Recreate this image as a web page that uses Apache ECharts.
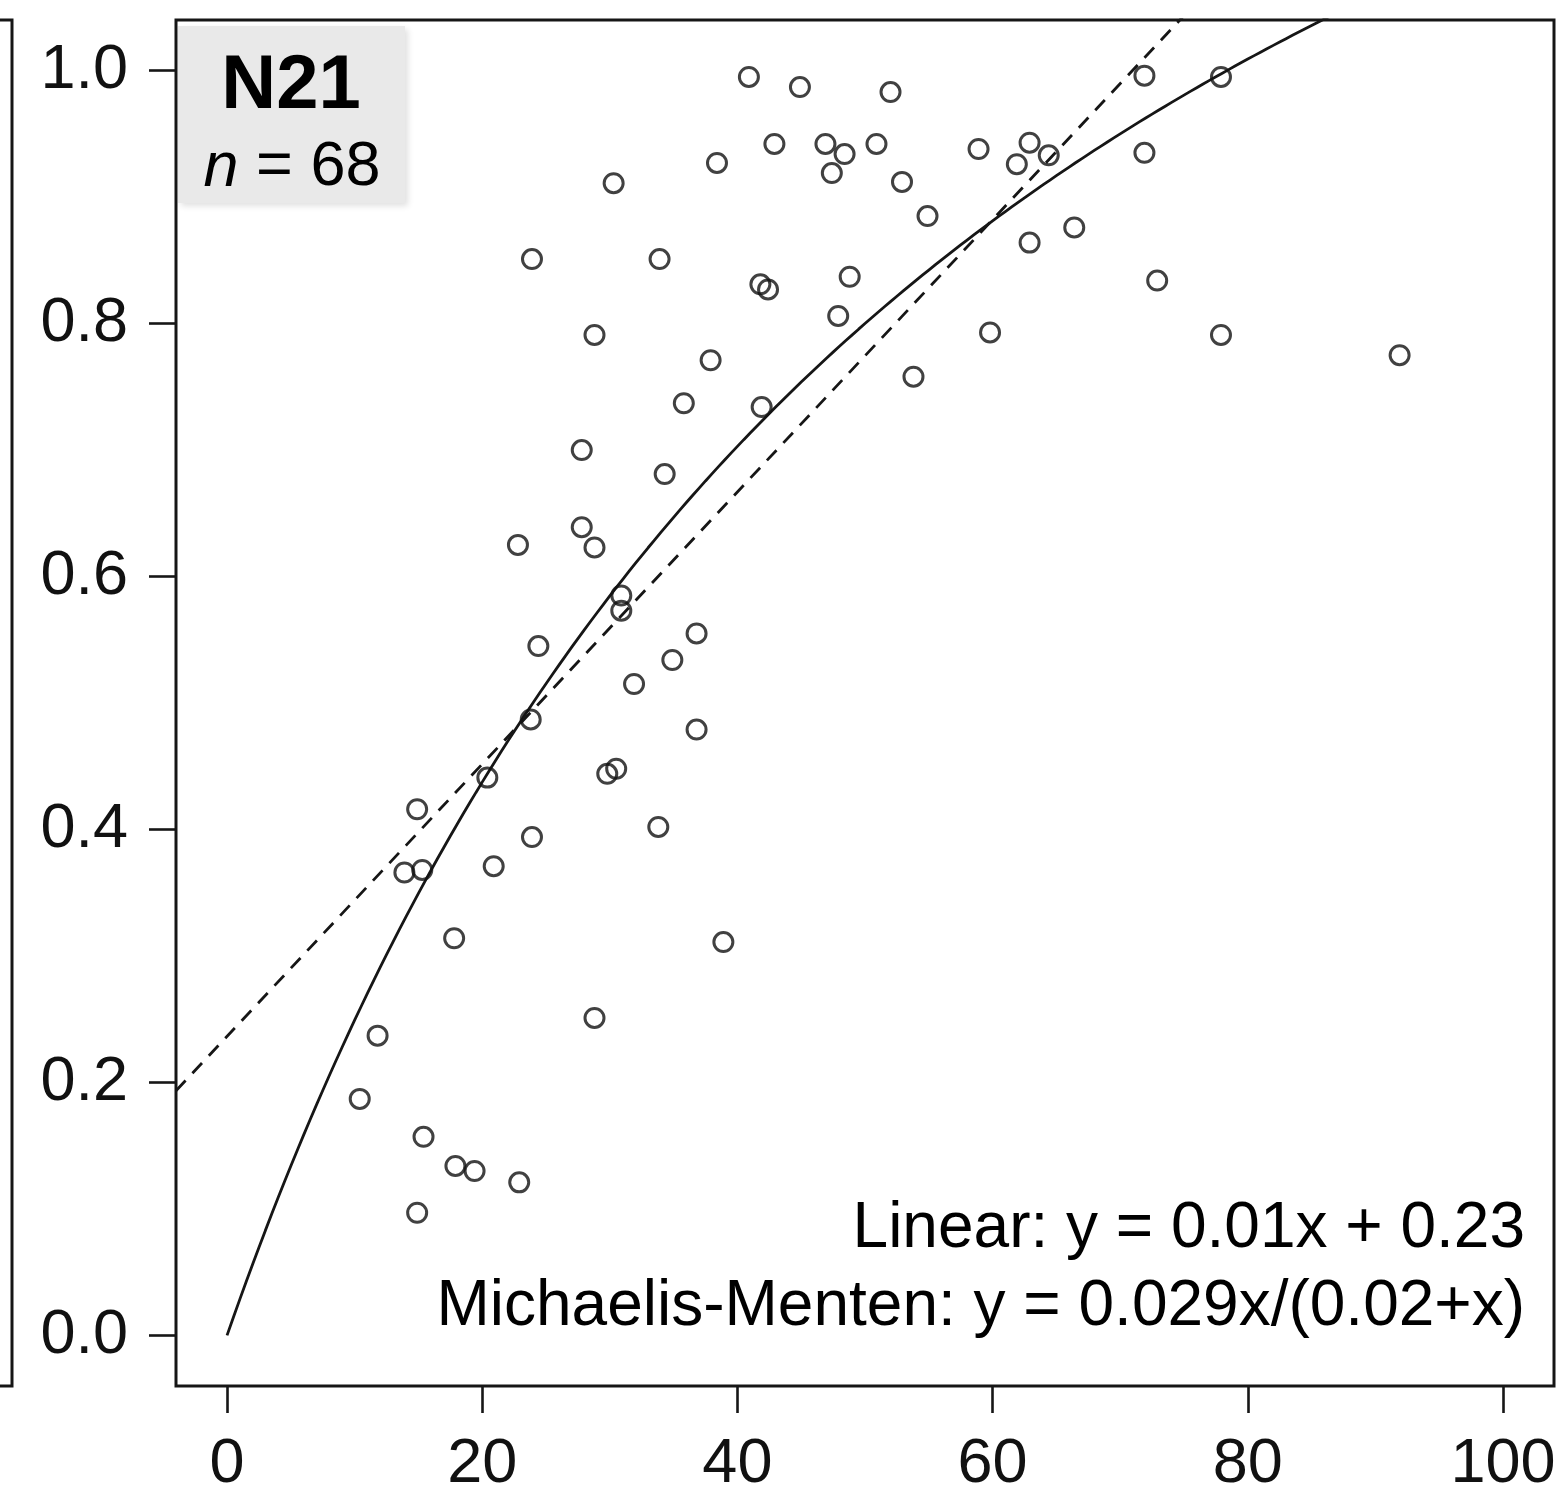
<!DOCTYPE html>
<html>
<head>
<meta charset="utf-8">
<script src="https://cdn.jsdelivr.net/npm/echarts@6/dist/echarts.min.js"></script>
<style>
html,body{margin:0;padding:0;background:#fff;}
#chart{width:1561px;height:1497px;}
</style>
</head>
<body>
<div id="chart"></div>
<script>
// ---- data ----
const xTicks = [0, 20, 40, 60, 80, 100];
const yTicks = [0.0, 0.2, 0.4, 0.6, 0.8, 1.0];
const xValues = [40.9, 44.9, 52.0, 71.9, 77.9, 42.9, 46.9, 48.4, 47.4, 50.9,
  38.4, 30.3, 52.9, 58.9, 62.9, 61.9, 64.4, 71.9, 54.9, 66.4,
  62.9, 23.9, 33.9, 41.8, 42.4, 48.8, 72.9, 47.9, 28.8, 59.8,
  77.9, 91.9, 37.9, 53.8, 35.8, 41.9, 27.8, 34.3, 27.8, 22.8,
  28.8, 30.9, 30.9, 36.8, 24.4, 34.9, 31.9, 23.8, 36.8, 20.4,
  30.5, 29.8, 14.9, 33.8, 23.9, 13.9, 15.3, 20.9, 17.8, 38.9,
  28.8, 11.8, 10.4, 15.4, 17.9, 19.4, 22.9, 14.9];
const yValues = [0.995, 0.987, 0.983, 0.996, 0.995, 0.942, 0.942, 0.934, 0.919, 0.942,
  0.927, 0.911, 0.912, 0.938, 0.943, 0.926, 0.933, 0.935, 0.885, 0.876,
  0.864, 0.851, 0.851, 0.831, 0.827, 0.837, 0.834, 0.806, 0.791, 0.793,
  0.791, 0.775, 0.771, 0.758, 0.737, 0.734, 0.700, 0.681, 0.639, 0.625,
  0.623, 0.585, 0.573, 0.555, 0.545, 0.534, 0.515, 0.487, 0.479, 0.441,
  0.448, 0.444, 0.416, 0.402, 0.394, 0.366, 0.368, 0.371, 0.314, 0.311,
  0.251, 0.237, 0.187, 0.157, 0.134, 0.130, 0.121, 0.097];
// fitted lines as drawn in the picture
const linearSlope = 0.01076;
const linearIntercept = 0.2365;
const mmVmax = 1.788;
const mmK = 61.75;
const panelLabel = 'N21';
const nLabel = '{i|n} = 68';
const eqLinear = 'Linear: y = 0.01x + 0.23';
const eqMM = 'Michaelis-Menten: y = 0.029x/(0.02+x)';

// ---- build series data ----
const points = xValues.map((x, i) => [x, yValues[i]]);
const mmCurve = [];
for (let i = 0; i <= 208; i++) {
  const x = i * 0.5;
  mmCurve.push([x, mmVmax * x / (mmK + x)]);
}
const linLine = [[-4, linearIntercept + linearSlope * -4], [104, linearIntercept + linearSlope * 104]];

const FONT = '"Liberation Sans", Arial, Helvetica, sans-serif';
const INK = '#111';

const chart = echarts.init(document.getElementById('chart'), null, {renderer: 'canvas'});
chart.setOption({
  animation: false,
  backgroundColor: '#ffffff',
  grid: {
    left: 176, right: 7, top: 20, bottom: 111,
    show: true, borderColor: '#161616', borderWidth: 3, backgroundColor: 'transparent'
  },
  xAxis: {
    type: 'value', min: -4, max: 104,
    axisLine: {show: false, onZero: false},
    splitLine: {show: false},
    axisTick: {show: true, inside: false, length: 27, customValues: xTicks,
      lineStyle: {color: '#161616', width: 2.6}},
    axisLabel: {show: true, customValues: xTicks, margin: 47,
      fontSize: 63, fontFamily: FONT, color: INK}
  },
  yAxis: {
    type: 'value', min: -0.04, max: 1.04,
    axisLine: {show: false, onZero: false},
    splitLine: {show: false},
    axisTick: {show: true, inside: false, length: 27, customValues: yTicks,
      lineStyle: {color: '#161616', width: 2.6}},
    axisLabel: {show: true, customValues: yTicks, margin: 48,
      fontSize: 63, fontFamily: FONT, color: INK,
      formatter: v => Number(v).toFixed(1)}
  },
  series: [
    {
      type: 'line', data: linLine, showSymbol: false, clip: true, silent: true,
      lineStyle: {color: '#161616', width: 2.8, type: [14, 10]}, z: 2
    },
    {
      type: 'line', data: mmCurve, showSymbol: false, clip: true, silent: true,
      lineStyle: {color: '#161616', width: 2.8}, z: 2
    },
    {
      type: 'scatter', data: points, symbol: 'circle', symbolSize: 19,
      itemStyle: {color: 'rgba(0,0,0,0)', borderColor: '#111', borderWidth: 3}, z: 3
    }
  ],
  graphic: [
    {
      type: 'polyline', silent: true,
      shape: {points: [[0, 20], [12, 20], [12, 1386], [0, 1386]]},
      style: {stroke: '#161616', lineWidth: 3, fill: null}
    },
    {
      type: 'rect', silent: true, z: 10,
      shape: {x: 178, y: 26, width: 227, height: 177},
      style: {fill: '#e9e9e9', shadowBlur: 6, shadowColor: 'rgba(0,0,0,0.12)', shadowOffsetX: 3, shadowOffsetY: 3}
    },
    {
      type: 'text', silent: true, z: 11, x: 291, y: 87,
      style: {text: panelLabel, font: 'bold 76px ' + FONT, fill: '#000',
        textAlign: 'center', textVerticalAlign: 'middle'}
    },
    {
      type: 'text', silent: true, z: 11, x: 292, y: 168,
      style: {text: nLabel, fontSize: 63, fontFamily: FONT, fill: '#000',
        textAlign: 'center', textVerticalAlign: 'middle',
        rich: {i: {fontStyle: 'italic', fontSize: 63, fontFamily: FONT, fill: '#000'}}}
    },
    {
      type: 'text', silent: true, z: 11, x: 1525, y: 1229,
      style: {text: eqLinear, fontSize: 64, fontFamily: FONT, fill: '#000',
        textAlign: 'right', textVerticalAlign: 'middle'}
    },
    {
      type: 'text', silent: true, z: 11, x: 1525, y: 1307,
      style: {text: eqMM, fontSize: 64, fontFamily: FONT, fill: '#000',
        textAlign: 'right', textVerticalAlign: 'middle'}
    }
  ]
});
</script>
</body>
</html>
